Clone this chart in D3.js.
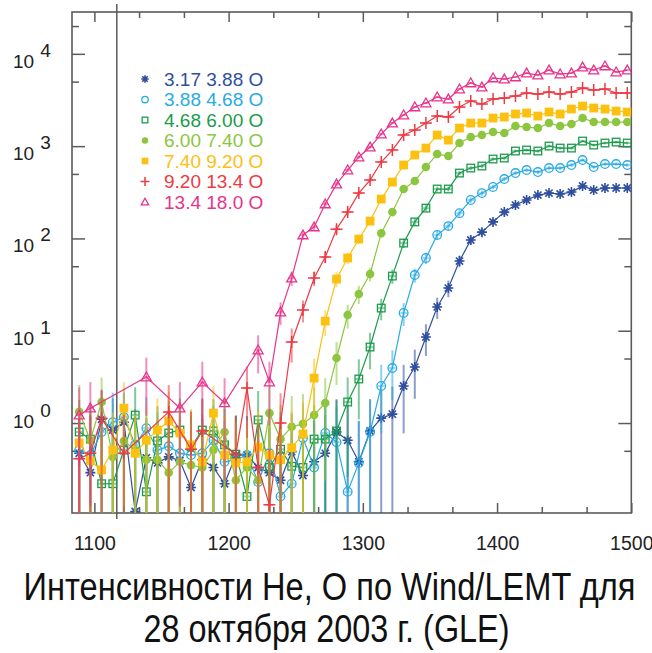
<!DOCTYPE html>
<html><head><meta charset="utf-8">
<script src="https://cdn.jsdelivr.net/npm/d3@7/dist/d3.min.js"></script>
<style>body{margin:0;background:#fff}svg{display:block}</style>
</head><body><svg id="c" width="652" height="653"></svg>
<script>
// ---------- data ----------
const times = [1088.7,1097.0,1105.4,1113.7,1122.0,1130.4,1138.7,1147.0,1155.4,1163.7,
  1172.0,1180.4,1188.7,1197.0,1205.4,1213.7,1222.0,1230.4,1238.7,1247.0,
  1255.4,1263.7,1272.0,1280.4,1288.7,1297.0,1305.4,1313.7,1322.0,1330.4,
  1338.7,1347.0,1355.4,1363.7,1372.0,1380.4,1388.7,1397.0,1405.4,1413.7,
  1422.0,1430.4,1438.7,1447.0,1455.4,1463.7,1472.0,1480.4,1488.7,1497.0];

const seriesLabels = ["3.17 3.88 O","3.88 4.68 O","4.68 6.00 O","6.00 7.40 O","7.40 9.20 O","9.20 13.4 O","13.4 18.0 O"];
const seriesColors = ["#2f4e9e","#29abe2","#1b9c4c","#8cc63f","#fcc010","#ee3a43","#e8338b"];
const seriesSymbols = ["asterisk","circle","square","dot","block","plus","triangle"];

const o317 = [0.47,0.29,1.10,0.84,1.02,0.11,0.42,0.37,0.43,0.39,0.20,0.40,0.33,0.22,0.45,0.45,0.33,0.29,0.24,0.49,
  0.27,0.38,0.47,0.80,0.65,0.38,0.82,1.13,1.25,2.52,4.04,8.55,18.1,29.0,56.9,96.1,117,151,193,230,
  261,295,310,303,318,370,334,352,352,352];
const o388 = [0.51,0.45,0.80,1.02,1.16,0.58,0.88,0.51,0.56,0.47,0.45,0.47,0.65,0.38,0.40,0.45,0.23,0.47,0.16,0.22,
  0.69,0.33,0.78,0.62,0.18,0.37,0.80,2.52,3.94,15.6,40.1,61.4,109,136,188,261,310,361,440,511,
  551,524,579,579,624,707,594,640,640,624];
const o468 = [0.80,0.67,0.22,0.22,0.51,1.22,0.18,0.64,0.78,0.84,0.55,0.84,0.82,0.58,0.46,0.16,1.08,0.33,0.52,0.34,
  0.33,0.67,0.67,0.82,1.69,3.00,6.66,17.6,39.1,89.1,151,213,343,343,511,579,609,725,743,885,
  907,885,1002,953,953,1135,1028,1081,1107,1081];
const o600 = [1.32,0.65,1.69,0.43,0.64,0.51,0.40,0.40,0.29,0.38,0.35,0.33,0.51,0.80,0.24,0.33,0.24,1.28,0.67,0.91,
  0.98,1.22,1.65,5.06,14.8,25.0,41.1,114,193,343,419,594,821,781,1081,1255,1318,1422,1387,1651,
  1610,1570,1778,1651,1734,2015,1824,1824,1824,1824];
const o740 = [0.61,0.39,0.31,0.51,1.45,0.47,0.65,0.84,1.05,0.78,0.58,0.38,1.28,0.45,0.37,0.38,0.55,0.45,0.40,0.54,
  0.76,3.07,12.7,36.3,61.4,98.5,154,267,408,624,801,953,1318,1164,1570,1778,1778,2015,2066,2228,
  2284,2118,2341,2228,2523,2719,2588,2523,2399,2341];
const o920 = [0.41,0.47,1.13,null,0.47,null,null,null,1.32,null,0.52,0.82,null,null,0.46,2.39,0.33,0.13,1.00,7.55,
  16.8,37.2,62.9,126,193,310,429,673,907,1318,1494,1778,2118,2066,2655,3081,2858,3236,3319,3491,
  3758,3664,3855,3664,3855,4257,4055,4155,3758,3758];
const o1340 = [1.22,1.45,null,null,null,null,3.15,null,null,1.45,null,2.78,null,1.65,null,null,6.18,2.78,15.9,37.2,
  109,133,236,388,551,762,977,1352,1778,2173,2655,2931,3404,3236,4155,4830,4365,5470,5330,5610,
  6190,5890,6670,6040,6190,7190,6670,7380,6350,6670];
const seriesValues = [o317,o388,o468,o600,o740,o920,o1340];

const xMajorTicks = [1100,1200,1300,1400,1500];
const xMinorTicks = [1133.3,1166.7,1233.3,1266.7,1333.3,1366.7,1433.3,1466.7];
const yMajorTicks = [1,10,100,1000,10000];
const yMinorTicks = [0.5,5,50,500,5000,20000];
const eventTimes = [1116.7];
const titleLines = ["Интенсивности He, O по Wind/LEMT для","28 октября 2003 г. (GLE)"];

// ---------- layout ----------
const L = 72, R = 631.3, T = 12, B = 513;
const x = d3.scaleLinear().domain([1083.33, 1500]).range([L, R]);
const y = d3.scaleLog().domain([0.106, 28400]).range([B, T]);
const svg = d3.select("#c");
const FONT = "'Liberation Sans', Arial, Helvetica, sans-serif";
const AX = "#5b5b5b";

svg.append("defs").append("clipPath").attr("id","clip")
  .append("rect").attr("x",L).attr("y",T).attr("width",R-L).attr("height",B-T);

// axes (ticks inward)
function styleAxis(g){ g.select(".domain").remove(); g.selectAll("line").attr("stroke",AX).attr("stroke-width",1.5); }
svg.append("g").attr("transform",`translate(0,${B})`)
  .call(d3.axisBottom(x).tickValues(xMajorTicks).tickSizeInner(-10).tickSizeOuter(0).tickPadding(23).tickFormat(d3.format("d")))
  .call(styleAxis)
  .call(g=>g.selectAll("text").attr("font-family",FONT).attr("font-size",19.5).attr("fill","#222"));
svg.append("g").attr("transform",`translate(0,${B})`)
  .call(d3.axisBottom(x).tickValues(xMinorTicks).tickSizeInner(-6).tickSizeOuter(0).tickFormat("")).call(styleAxis);
svg.append("g").attr("transform",`translate(0,${T})`)
  .call(d3.axisTop(x).tickValues(xMajorTicks).tickSizeInner(-10).tickSizeOuter(0).tickFormat("")).call(styleAxis);
svg.append("g").attr("transform",`translate(0,${T})`)
  .call(d3.axisTop(x).tickValues(xMinorTicks).tickSizeInner(-6).tickSizeOuter(0).tickFormat("")).call(styleAxis);
svg.append("g").attr("transform",`translate(${L},0)`)
  .call(d3.axisLeft(y).tickValues(yMajorTicks).tickSizeInner(-13).tickSizeOuter(0).tickFormat("")).call(styleAxis);
svg.append("g").attr("transform",`translate(${L},0)`)
  .call(d3.axisLeft(y).tickValues(yMinorTicks).tickSizeInner(-7).tickSizeOuter(0).tickFormat("")).call(styleAxis);
svg.append("g").attr("transform",`translate(${R},0)`)
  .call(d3.axisRight(y).tickValues(yMajorTicks).tickSizeInner(-13).tickSizeOuter(0).tickFormat("")).call(styleAxis);
svg.append("g").attr("transform",`translate(${R},0)`)
  .call(d3.axisRight(y).tickValues(yMinorTicks).tickSizeInner(-7).tickSizeOuter(0).tickFormat("")).call(styleAxis);

// y labels 10^n
yMajorTicks.forEach(v=>{
  const e = Math.round(Math.log10(v));
  const t = svg.append("text").attr("x",13).attr("y",y(v)+(e===0?5:14))
    .attr("font-family",FONT).attr("font-size",19).attr("fill","#222");
  t.append("tspan").text("10");
  t.append("tspan").attr("dx",6).attr("dy",-11).text(String(e));
});

// frame
svg.append("rect").attr("x",L).attr("y",T).attr("width",R-L).attr("height",B-T)
  .attr("fill","none").attr("stroke",AX).attr("stroke-width",1.6);

// event line
svg.selectAll(".ev").data(eventTimes).enter().append("line")
  .attr("x1",d=>x(d)).attr("x2",d=>x(d)).attr("y1",4).attr("y2",519)
  .attr("stroke",AX).attr("stroke-width",1.5);

// symbols
function drawSymbol(g, kind, cx, cy, col, s){
  s = s || 1;
  if(kind==="asterisk"){
    const a=5*s, b=3.6*s;
    g.append("path").attr("d",`M${cx-a},${cy}H${cx+a}M${cx},${cy-a}V${cy+a}M${cx-b},${cy-b}L${cx+b},${cy+b}M${cx-b},${cy+b}L${cx+b},${cy-b}`)
      .attr("stroke",col).attr("stroke-width",1.6).attr("fill","none");
  } else if(kind==="circle"){
    g.append("circle").attr("cx",cx).attr("cy",cy).attr("r",4.3*s).attr("fill","none").attr("stroke",col).attr("stroke-width",1.3);
  } else if(kind==="square"){
    const a=3.8*s; g.append("rect").attr("x",cx-a).attr("y",cy-a).attr("width",2*a).attr("height",2*a)
      .attr("fill","none").attr("stroke",col).attr("stroke-width",1.3);
  } else if(kind==="dot"){
    g.append("circle").attr("cx",cx).attr("cy",cy).attr("r",4.3*s).attr("fill",col);
  } else if(kind==="block"){
    const a=4.4*s; g.append("rect").attr("x",cx-a).attr("y",cy-a).attr("width",2*a).attr("height",2*a).attr("fill",col);
  } else if(kind==="plus"){
    const a=6*s; g.append("path").attr("d",`M${cx-a},${cy}H${cx+a}M${cx},${cy-a}V${cy+a}`)
      .attr("stroke",col).attr("stroke-width",1.5).attr("fill","none");
  } else if(kind==="triangle"){
    const a=5*s; g.append("path").attr("d",`M${cx},${cy-a}L${cx+a},${cy+a*0.75}L${cx-a},${cy+a*0.75}Z`)
      .attr("stroke",col).attr("stroke-width",1.3).attr("fill","none");
  }
}

const plot = svg.append("g").attr("clip-path","url(#clip)");
const half = (times[1]-times[0])/2;
seriesValues.forEach((vals,k)=>{
  const col = seriesColors[k];
  const pts = times.map((t,i)=>({t, v: vals[i]})).filter(d=>d.v!=null);
  const g = plot.append("g");
  // error bars (counting statistics estimate)
  pts.forEach(d=>{
    const err = 1.1*Math.sqrt(d.v);
    const lo = d.v-err > 0 ? y(d.v-err) : B+5;
    g.append("line").attr("x1",x(d.t)).attr("x2",x(d.t)).attr("y1",y(d.v+err)).attr("y2",lo)
      .attr("stroke",col).attr("stroke-width",2).attr("opacity",0.55);
    g.append("line").attr("x1",x(d.t-half*0.6)).attr("x2",x(d.t+half*0.6)).attr("y1",y(d.v)).attr("y2",y(d.v))
      .attr("stroke",col).attr("stroke-width",2).attr("opacity",0.45);
  });
  g.append("path").datum(pts)
    .attr("d", d3.line().x(d=>x(d.t)).y(d=>y(d.v)))
    .attr("fill","none").attr("stroke",col).attr("stroke-width",1.2);
  pts.forEach(d=>drawSymbol(g, seriesSymbols[k], x(d.t), y(d.v), col, 1));
});

// legend
const leg = svg.append("g");
seriesLabels.forEach((lab,k)=>{
  const cy = 79 + k*20.5;
  drawSymbol(leg, seriesSymbols[k], 145, cy, seriesColors[k], 0.75);
  leg.append("text").attr("x",164).attr("y",cy+6.5).text(lab)
    .attr("font-family",FONT).attr("font-size",19).attr("fill",seriesColors[k]);
});

// title (narrow sans, stretched vertically to match the condensed face)
const TF = "'Liberation Sans Narrow','Arial Narrow','Liberation Sans',Arial,sans-serif";
[[titleLines[0],329.5,600,612],[titleLines[1],326.5,642,366]].forEach(([txt,cx,by,w])=>{
  svg.append("text").attr("transform",`translate(${cx},${by}) scale(1,1.22)`).text(txt)
    .attr("font-family",TF).attr("font-size",32).attr("fill","#111").attr("text-anchor","middle")
    .attr("textLength",w).attr("lengthAdjust","spacingAndGlyphs");
});
</script></body></html>
